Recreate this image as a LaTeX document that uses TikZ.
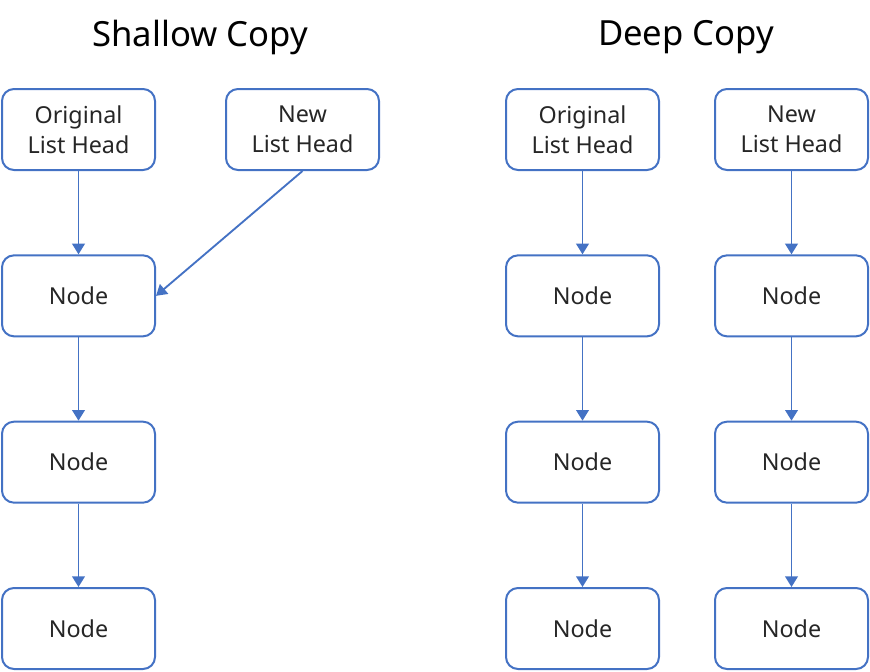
\documentclass[tikz,border=0pt]{standalone}
\usepackage{fontspec}
\setmainfont{Noto Sans}
\usetikzlibrary{arrows.meta,positioning}
\definecolor{boxblue}{HTML}{4472C4}
\definecolor{txtgray}{HTML}{262626}

\begin{document}
\begin{tikzpicture}[
    x=0.75pt, y=-0.75pt,
    font=\fontsize{17.5}{22.5}\selectfont,
    node distance=62.5pt and 51.75pt,
    box/.style={rectangle, draw=boxblue, line width=1.5pt, rounded corners=9pt, align=center, minimum width=114.75pt, minimum height=60.75pt, text=txtgray, inner sep=0pt},
    title/.style={font=\fontsize{26}{30}\selectfont, text=black},
    arrow/.style={-{Triangle[length=8pt, width=9.5pt]}, draw=boxblue, line width=1.4pt}
]
\useasboundingbox (0,0) rectangle (870,671);

\node[title] (shallowtitle) at (200,37) {Shallow Copy};
\node[title] (deeptitle) at (686,37) {Deep Copy};

% shallow copy
\node[box] (orighead) at (78.5,129.5) {Original\\List Head};
\node[box, right=of orighead] (newhead) {New\\List Head};
\node[box, below=of orighead] (sn1) {Node};
\node[box, below=of sn1] (sn2) {Node};
\node[box, below=of sn2] (sn3) {Node};

% deep copy
\node[box, right=93.75pt of newhead] (dorighead) {Original\\List Head};
\node[box, right=40.5pt of dorighead] (dnewhead) {New\\List Head};
\node[box, below=of dorighead] (do1) {Node};
\node[box, below=of do1] (do2) {Node};
\node[box, below=of do2] (do3) {Node};
\node[box, below=of dnewhead] (dn1) {Node};
\node[box, below=of dn1] (dn2) {Node};
\node[box, below=of dn2] (dn3) {Node};

\draw[arrow] (orighead) -- (sn1);
\draw[arrow] (newhead.south) -- (sn1.east);
\draw[arrow] (sn1) -- (sn2);
\draw[arrow] (sn2) -- (sn3);

\draw[arrow] (dorighead) -- (do1);
\draw[arrow] (do1) -- (do2);
\draw[arrow] (do2) -- (do3);
\draw[arrow] (dnewhead) -- (dn1);
\draw[arrow] (dn1) -- (dn2);
\draw[arrow] (dn2) -- (dn3);
\end{tikzpicture}
\end{document}
